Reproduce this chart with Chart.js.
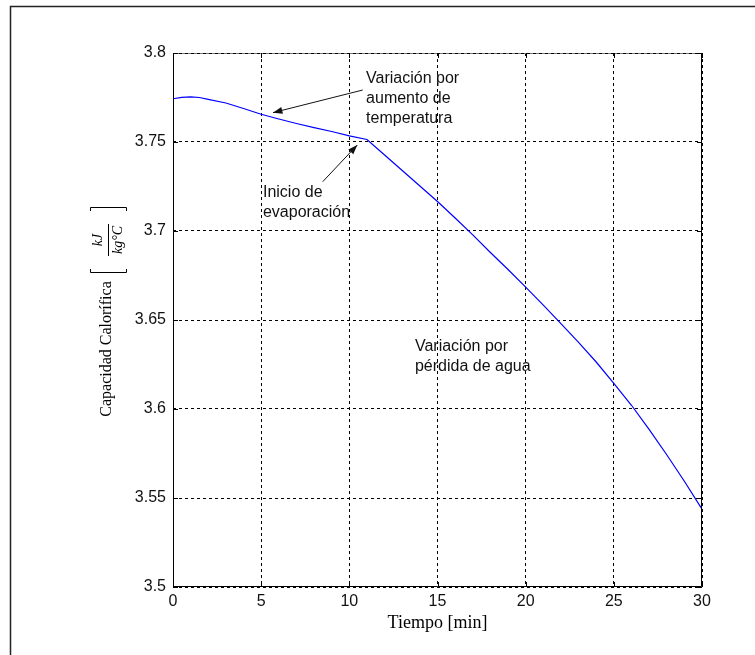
<!DOCTYPE html>
<html>
<head>
<meta charset="utf-8">
<script src="https://cdn.jsdelivr.net/npm/chart.js@4/dist/chart.umd.min.js"></script>
<style>
html,body{margin:0;padding:0;background:#fff;}
#wrap{position:relative;width:755px;height:655px;}
</style>
</head>
<body>
<div id="wrap"><canvas id="c" width="755" height="655"></canvas></div>
<script>
// ---- data ----
const tiempo = [0,0.5,1,1.5,2,3,4,5,6,7,8,9,10,11,12,13,14,15,16,17,18,19,20,21,22,23,24,25,26,27,28,29,30];
const capacidad = [3.7743,3.7751,3.7753,3.7750,3.7739,3.7719,3.7688,3.7656,3.7629,3.7604,3.7581,3.7559,3.7534,3.7514,
  3.7427,3.7340,3.7253,3.7166,3.7073,3.6978,3.6879,3.6784,3.6685,3.6584,3.6480,3.6374,3.6264,3.6144,3.6021,3.5886,3.5743,3.5594,3.5437];
const xTicks = [0,5,10,15,20,25,30];
const yTicks = [3.5,3.55,3.6,3.65,3.7,3.75,3.8];
const yTickLabels = ['3.5','3.55','3.6','3.65','3.7','3.75','3.8'];
const xTitle = 'Tiempo [min]';
const yTitle = 'Capacidad Calorífica';
const annotations = [
  {lines:['Variación por','aumento de','temperatura'], at:[10.95,3.7831], arrowFrom:[10.76,3.7792], arrowTo:[5.67,3.7665]},
  {lines:['Inicio de','evaporación'], at:[5.10,3.7191], arrowFrom:[8.49,3.7277], arrowTo:[10.45,3.7483]},
  {lines:['Variación por','pérdida de agua'], at:[13.72,3.6326]}
];

const points = tiempo.map((t,i)=>({x:t,y:capacidad[i]}));

const decor = {
  id:'decor',
  beforeDraw(chart){
    const ctx = chart.ctx;
    ctx.save();
    ctx.strokeStyle = '#222';
    ctx.lineWidth = 1.5;
    ctx.beginPath();
    ctx.moveTo(10.5, 700); ctx.lineTo(10.5, 6.5); ctx.lineTo(800, 6.5);
    ctx.stroke();
    ctx.restore();
  },
  afterDraw(chart){
    const ctx = chart.ctx;
    const a = chart.chartArea;
    const xs = chart.scales.x, ys = chart.scales.y;
    ctx.save();
    // box
    ctx.strokeStyle = '#000';
    ctx.lineWidth = 1;
    ctx.beginPath();
    ctx.moveTo(a.left+0.5, a.top); ctx.lineTo(a.left+0.5, a.bottom-0.5);
    ctx.lineTo(a.right-0.5, a.bottom-0.5); ctx.lineTo(a.right-0.5, a.top);
    ctx.stroke();
    ctx.strokeStyle = '#777';
    ctx.beginPath(); ctx.moveTo(a.left, a.top+0.5); ctx.lineTo(a.right, a.top+0.5); ctx.stroke();
    ctx.strokeStyle = '#000';
    ctx.setLineDash([3,3]);
    ctx.beginPath(); ctx.moveTo(a.left, a.top+0.5); ctx.lineTo(a.right, a.top+0.5); ctx.stroke();
    ctx.setLineDash([]);
    // inward ticks
    ctx.beginPath();
    xTicks.forEach(v=>{
      const px = Math.round(xs.getPixelForValue(v))+0.5;
      ctx.moveTo(px, a.bottom); ctx.lineTo(px, a.bottom-5);
      ctx.moveTo(px, a.top); ctx.lineTo(px, a.top+5);
    });
    yTicks.forEach(v=>{
      const py = Math.round(ys.getPixelForValue(v))+0.5;
      ctx.moveTo(a.left, py); ctx.lineTo(a.left+5, py);
      ctx.moveTo(a.right, py); ctx.lineTo(a.right-5, py);
    });
    ctx.stroke();

    // annotations
    ctx.fillStyle = '#111';
    ctx.font = '16px "Liberation Sans", Arial, sans-serif';
    ctx.textAlign = 'left';
    ctx.textBaseline = 'alphabetic';
    annotations.forEach(an=>{
      const x0 = xs.getPixelForValue(an.at[0]);
      const y0 = ys.getPixelForValue(an.at[1]);
      an.lines.forEach((l,i)=>ctx.fillText(l, x0, y0 + i*20));
      if(an.arrowFrom){
        const fx = xs.getPixelForValue(an.arrowFrom[0]), fy = ys.getPixelForValue(an.arrowFrom[1]);
        const tx = xs.getPixelForValue(an.arrowTo[0]), ty = ys.getPixelForValue(an.arrowTo[1]);
        ctx.strokeStyle = '#111'; ctx.lineWidth = 1;
        ctx.beginPath(); ctx.moveTo(fx,fy); ctx.lineTo(tx,ty); ctx.stroke();
        const ang = Math.atan2(ty-fy, tx-fx);
        const L = 10, W = 0.35;
        ctx.beginPath();
        ctx.moveTo(tx,ty);
        ctx.lineTo(tx - L*Math.cos(ang-W), ty - L*Math.sin(ang-W));
        ctx.lineTo(tx - L*Math.cos(ang+W), ty - L*Math.sin(ang+W));
        ctx.closePath(); ctx.fill();
      }
    });

    // axis titles
    ctx.fillStyle = '#000';
    ctx.font = '18px "Liberation Serif", "Times New Roman", serif';
    ctx.textAlign = 'center';
    ctx.textBaseline = 'alphabetic';
    ctx.fillText(xTitle, (a.left+a.right)/2, 628);

    ctx.save();
    ctx.font = '16px "Liberation Serif", "Times New Roman", serif';
    ctx.translate(107, 349);
    ctx.rotate(-Math.PI/2);
    ctx.textBaseline = 'middle';
    ctx.fillText(yTitle, 0, 0);
    // fraction in brackets
    ctx.font = 'italic 14px "Liberation Serif", "Times New Roman", serif';
    ctx.fillText('kJ', 109, -9);
    ctx.fillText('kg°C', 109, 11);
    ctx.lineWidth = 1;
    ctx.strokeStyle = '#000';
    ctx.beginPath();
    ctx.moveTo(93, 1.5); ctx.lineTo(125, 1.5);
    // left bracket
    ctx.moveTo(80, -16.5); ctx.lineTo(76.5, -16.5); ctx.lineTo(76.5, 19.5); ctx.lineTo(80, 19.5);
    // right bracket
    ctx.moveTo(138, -16.5); ctx.lineTo(141.5, -16.5); ctx.lineTo(141.5, 19.5); ctx.lineTo(138, 19.5);
    ctx.stroke();
    ctx.restore();

    ctx.restore();
  }
};

new Chart(document.getElementById('c'), {
  type:'line',
  data:{datasets:[{data:points, borderColor:'#0000ff', borderWidth:1.2, pointRadius:0, tension:0, fill:false}]},
  options:{
    responsive:false, animation:false,
    layout:{padding:{left:0, top:53, right:53, bottom:0}},
    plugins:{legend:{display:false}, tooltip:{enabled:false}},
    scales:{
      x:{type:'linear', min:0, max:30,
        afterBuildTicks(s){ s.ticks = xTicks.map(v=>({value:v})); },
        afterFit(s){ s.height = 68; },
        ticks:{padding:5, color:'#111', font:{family:'"Liberation Sans", Arial, sans-serif', size:16}, maxRotation:0,
          callback:(v)=>String(v)},
        grid:{color:'#000', lineWidth:1, drawTicks:false, tickLength:0},
        border:{display:false, dash:[3,3]}
      },
      y:{type:'linear', min:3.5, max:3.8,
        afterBuildTicks(s){ s.ticks = yTicks.map(v=>({value:v})); },
        afterFit(s){ s.width = 173; },
        ticks:{padding:7, color:'#111', font:{family:'"Liberation Sans", Arial, sans-serif', size:16},
          callback:(v)=>{ const i = yTicks.findIndex(t=>Math.abs(t-v)<1e-9); return i>=0 ? yTickLabels[i] : ''; }},
        grid:{color:'#000', lineWidth:1, drawTicks:false, tickLength:0},
        border:{display:false, dash:[3,3]}
      }
    }
  },
  plugins:[decor]
});
</script>
</body>
</html>
